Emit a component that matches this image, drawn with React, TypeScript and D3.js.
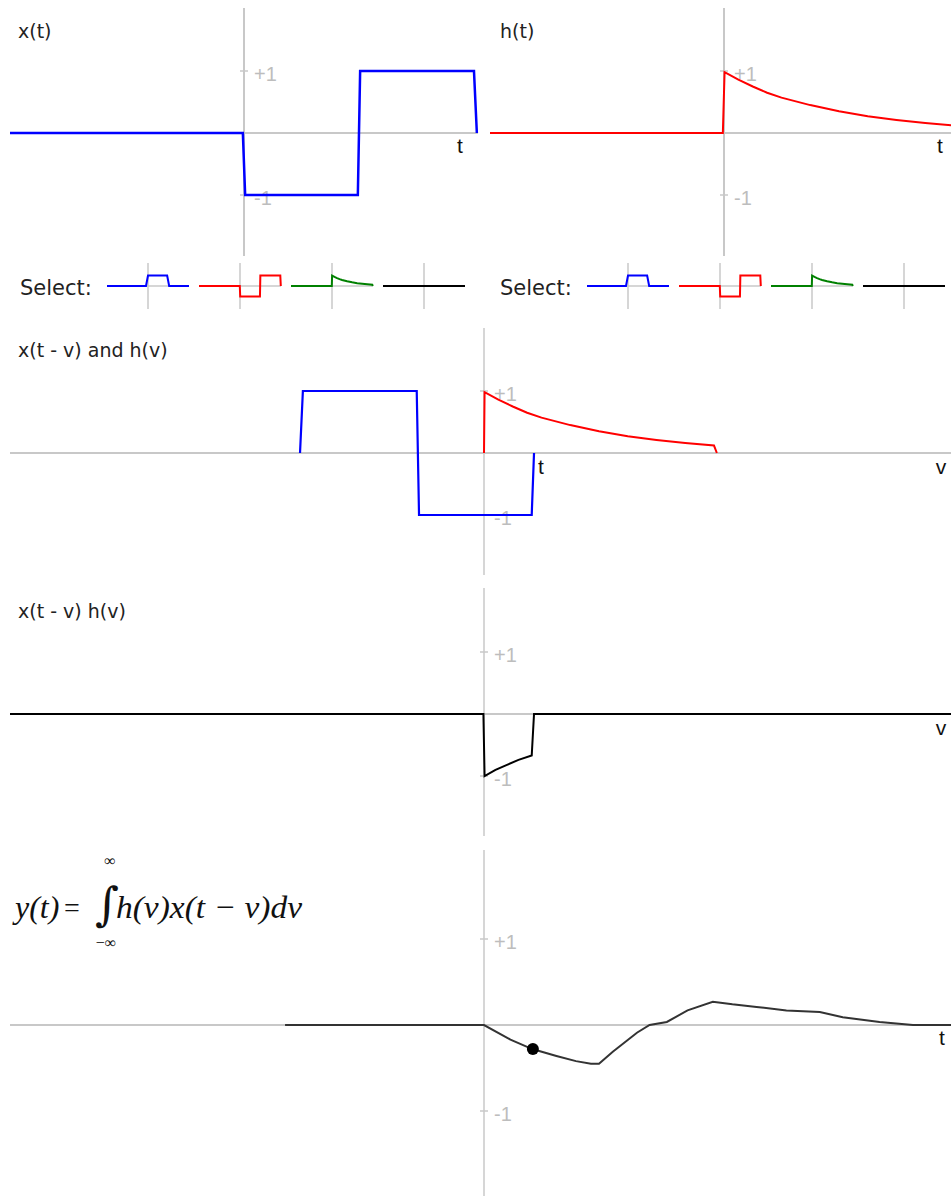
import React from 'react'
import { scaleLinear, line } from 'd3'

// input x(t): -1 on [0,1], +1 on [1,2]
const xSigT = [-2.035, -0.01, 0.01, 0.99, 1.01, 2.0, 2.025]
const xSigV = [0, 0, -1, -1, 1, 1, 0]

// impulse response h(t)
const hSigT = [-2.035, -0.01, 0.005, 0.125, 0.25, 0.375, 0.5, 0.75, 1.0, 1.25, 1.5, 1.75, 2.0, 2.025]
const hSigV = [0, 0, 0.98, 0.86, 0.75, 0.65, 0.57, 0.45, 0.35, 0.27, 0.21, 0.16, 0.12, 0]

// current shift t
const tNow = 0.425

// product x(t - v) h(v)
const prodV = [-4.122, -0.005, 0.005, 0.1, 0.2, 0.3, 0.415, 0.435, 4.122]
const prodY = [0, 0, -1.0, -0.9, -0.82, -0.74, -0.67, 0, 0]

// output y(t) traced so far
const yOutT = [-1.73, 0, 0.23, 0.42, 0.63, 0.8, 0.93, 1.0, 1.12, 1.33, 1.44, 1.59, 1.77, 1.99, 2.16, 2.37, 2.63, 2.92, 3.12, 3.44, 3.73, 4.122]
const yOutV = [0, 0, -0.17, -0.28, -0.36, -0.42, -0.45, -0.45, -0.31, -0.09, 0, 0.035, 0.17, 0.27, 0.24, 0.21, 0.17, 0.15, 0.09, 0.035, 0, 0]
const yDot = -0.28

// selector thumbnails
const pulseT = [-2.035, -0.1, 0.0, 0.95, 1.05, 2.035]
const pulseV = [0, 0, 1, 1, 0, 0]
const zeroT = [-2.035, 2.035]
const zeroV = [0, 0]

const tickVals = [1, -1]
const tickLabels = ['+1', '-1']

const AXIS = '#c8c8c8'
const TICK_TEXT = '#bdbdbd'
const LABEL_FONT = '"DejaVu Sans", sans-serif'
const TICK_FONT = '"Liberation Sans", Arial, sans-serif'

const toPath = (ts: number[], vs: number[], sx: any, sy: any) =>
  line()(ts.map((t, i) => [sx(t), sy(vs[i])] as [number, number]))

const Axes = ({ sx, sy, top, bottom, vw = 2 }: any) => {
  const cx = sx(0)
  const [x0, x1] = sx.range()
  return (
    <g>
      <line x1={x0} x2={x1} y1={sy(0)} y2={sy(0)} stroke={AXIS} strokeWidth={2} />
      <line x1={cx} x2={cx} y1={top} y2={bottom} stroke={AXIS} strokeWidth={vw} />
      {tickVals.map((v, i) => (
        <g key={i}>
          <line x1={cx - 4} x2={cx + 4} y1={sy(v)} y2={sy(v)} stroke={AXIS} strokeWidth={1.5} />
          <text x={cx + 10} y={sy(v)} dy={9.5} fill={TICK_TEXT} fontSize={20} fontFamily={TICK_FONT}>
            {tickLabels[i]}
          </text>
        </g>
      ))}
    </g>
  )
}

const Thumb = ({ cx, ts, vs, color }: any) => {
  const sx = scaleLinear().domain([-2.035, 2.035]).range([cx - 41, cx + 41])
  const sy = scaleLinear().domain([-1, 1]).range([296.5, 275.5])
  return (
    <g>
      <line x1={cx - 41} x2={cx + 41} y1={sy(0)} y2={sy(0)} stroke={AXIS} strokeWidth={1.5} />
      <line x1={cx} x2={cx} y1={263} y2={309} stroke={AXIS} strokeWidth={1.5} />
      <path d={toPath(ts, vs, sx, sy) as string} fill="none" stroke={color} strokeWidth={2} />
    </g>
  )
}

const SelectRow = ({ dx }: any) => {
  const centers = [148, 240, 332, 424].map(c => c + dx)
  return (
    <g>
      <text x={20 + dx} y={295} fontSize={21} fontFamily={LABEL_FONT} fill="#222">Select:</text>
      <Thumb cx={centers[0]} ts={pulseT} vs={pulseV} color="#0000ff" />
      <Thumb cx={centers[1]} ts={xSigT} vs={xSigV} color="#ff0000" />
      <Thumb cx={centers[2]} ts={hSigT} vs={hSigV} color="#008000" />
      <Thumb cx={centers[3]} ts={zeroT} vs={zeroV} color="#000000" />
    </g>
  )
}

const Label = ({ x, y, children, size = 19 }: any) => (
  <text x={x} y={y} fontSize={size} fontFamily={LABEL_FONT} fill="#222">{children}</text>
)

const AxisName = ({ x, y, children }: any) => (
  <text x={x} y={y} fontSize={21} fontFamily={TICK_FONT} fill="#111" textAnchor="middle">{children}</text>
)

const App = () => {
  // top row: x(t) and h(t)
  const sxL = scaleLinear().domain([-2.035, 2.035]).range([10, 478])
  const sxR = scaleLinear().domain([-2.035, 2.035]).range([490, 958])
  const syTop = scaleLinear().domain([-1, 1]).range([195, 71])

  // wide panels in v or t
  const sxW = scaleLinear().domain([-4.122, 4.122]).range([10, 958])
  const syMid = scaleLinear().domain([-1, 1]).range([515, 391])
  const syProd = scaleLinear().domain([-1, 1]).range([776, 652])
  const syOut = scaleLinear().domain([-1, 1]).range([1111, 939])

  // x(t - v): only the non-zero part of x, reflected and shifted
  const keep = xSigT.map((t, i) => i).filter(i => xSigT[i] >= -0.01)
  const xShiftV = keep.map(i => tNow - xSigT[i])
  const xShiftY = keep.map(i => xSigV[i])
  const keepH = hSigT.map((t, i) => i).filter(i => hSigT[i] >= 0)
  const hV = [0, ...keepH.map(i => hSigT[i])]
  const hY = [0, ...keepH.map(i => hSigV[i])]

  return (
    <svg width={951} height={1196} style={{ position: 'absolute', left: 0, top: 0, background: '#fff' }}>
      {/* x(t) */}
      <Axes sx={sxL} sy={syTop} top={8} bottom={256} />
      <path d={toPath(xSigT, xSigV, sxL, syTop) as string} fill="none" stroke="#0000ff" strokeWidth={2.5} />
      <Label x={18} y={38}>x(t)</Label>
      <AxisName x={460} y={153}>t</AxisName>

      {/* h(t) */}
      <Axes sx={sxR} sy={syTop} top={8} bottom={256} />
      <path d={toPath(hSigT, hSigV, sxR, syTop) as string} fill="none" stroke="#ff0000" strokeWidth={2} />
      <Label x={500} y={38}>h(t)</Label>
      <AxisName x={940} y={153}>t</AxisName>

      <SelectRow dx={0} />
      <SelectRow dx={480} />

      {/* x(t - v) and h(v) */}
      <Axes sx={sxW} sy={syMid} top={328} bottom={575} vw={1.5} />
      <path d={toPath(hV, hY, sxW, syMid) as string} fill="none" stroke="#ff0000" strokeWidth={2} />
      <path d={toPath(xShiftV, xShiftY, sxW, syMid) as string} fill="none" stroke="#0000ff" strokeWidth={2.2} />
      <Label x={18} y={357}>x(t - v) and h(v)</Label>
      <AxisName x={541} y={474}>t</AxisName>
      <AxisName x={941} y={474}>v</AxisName>

      {/* x(t - v) h(v) */}
      <Axes sx={sxW} sy={syProd} top={588} bottom={836} vw={1.5} />
      <path d={toPath(prodV, prodY, sxW, syProd) as string} fill="none" stroke="#000" strokeWidth={2} />
      <Label x={18} y={618}>x(t - v) h(v)</Label>
      <AxisName x={941} y={735}>v</AxisName>

      {/* y(t) */}
      <Axes sx={sxW} sy={syOut} top={850} bottom={1196} vw={1.5} />
      <path d={toPath(yOutT, yOutV, sxW, syOut) as string} fill="none" stroke="#333" strokeWidth={2} />
      <circle cx={sxW(tNow)} cy={syOut(yDot)} r={6} fill="#000" />
      <AxisName x={942} y={1045}>t</AxisName>

      <g fontFamily='"Liberation Serif", "Times New Roman", serif' fill="#111">
        <text x={15} y={918} fontSize={32} fontStyle="italic">y(t)</text>
        <text x={64} y={917} fontSize={28}>=</text>
        <text x={95} y={920} fontSize={46} fontFamily='"DejaVu Serif", serif'>∫</text>
        <text x={110} y={866} fontSize={16} textAnchor="middle">∞</text>
        <text x={106} y={948} fontSize={16} textAnchor="middle">−∞</text>
        <text x={116} y={918} fontSize={32} fontStyle="italic" textLength={186} lengthAdjust="spacingAndGlyphs">h(v)x(t − v)dv</text>
      </g>
    </svg>
  )
}

export default App
